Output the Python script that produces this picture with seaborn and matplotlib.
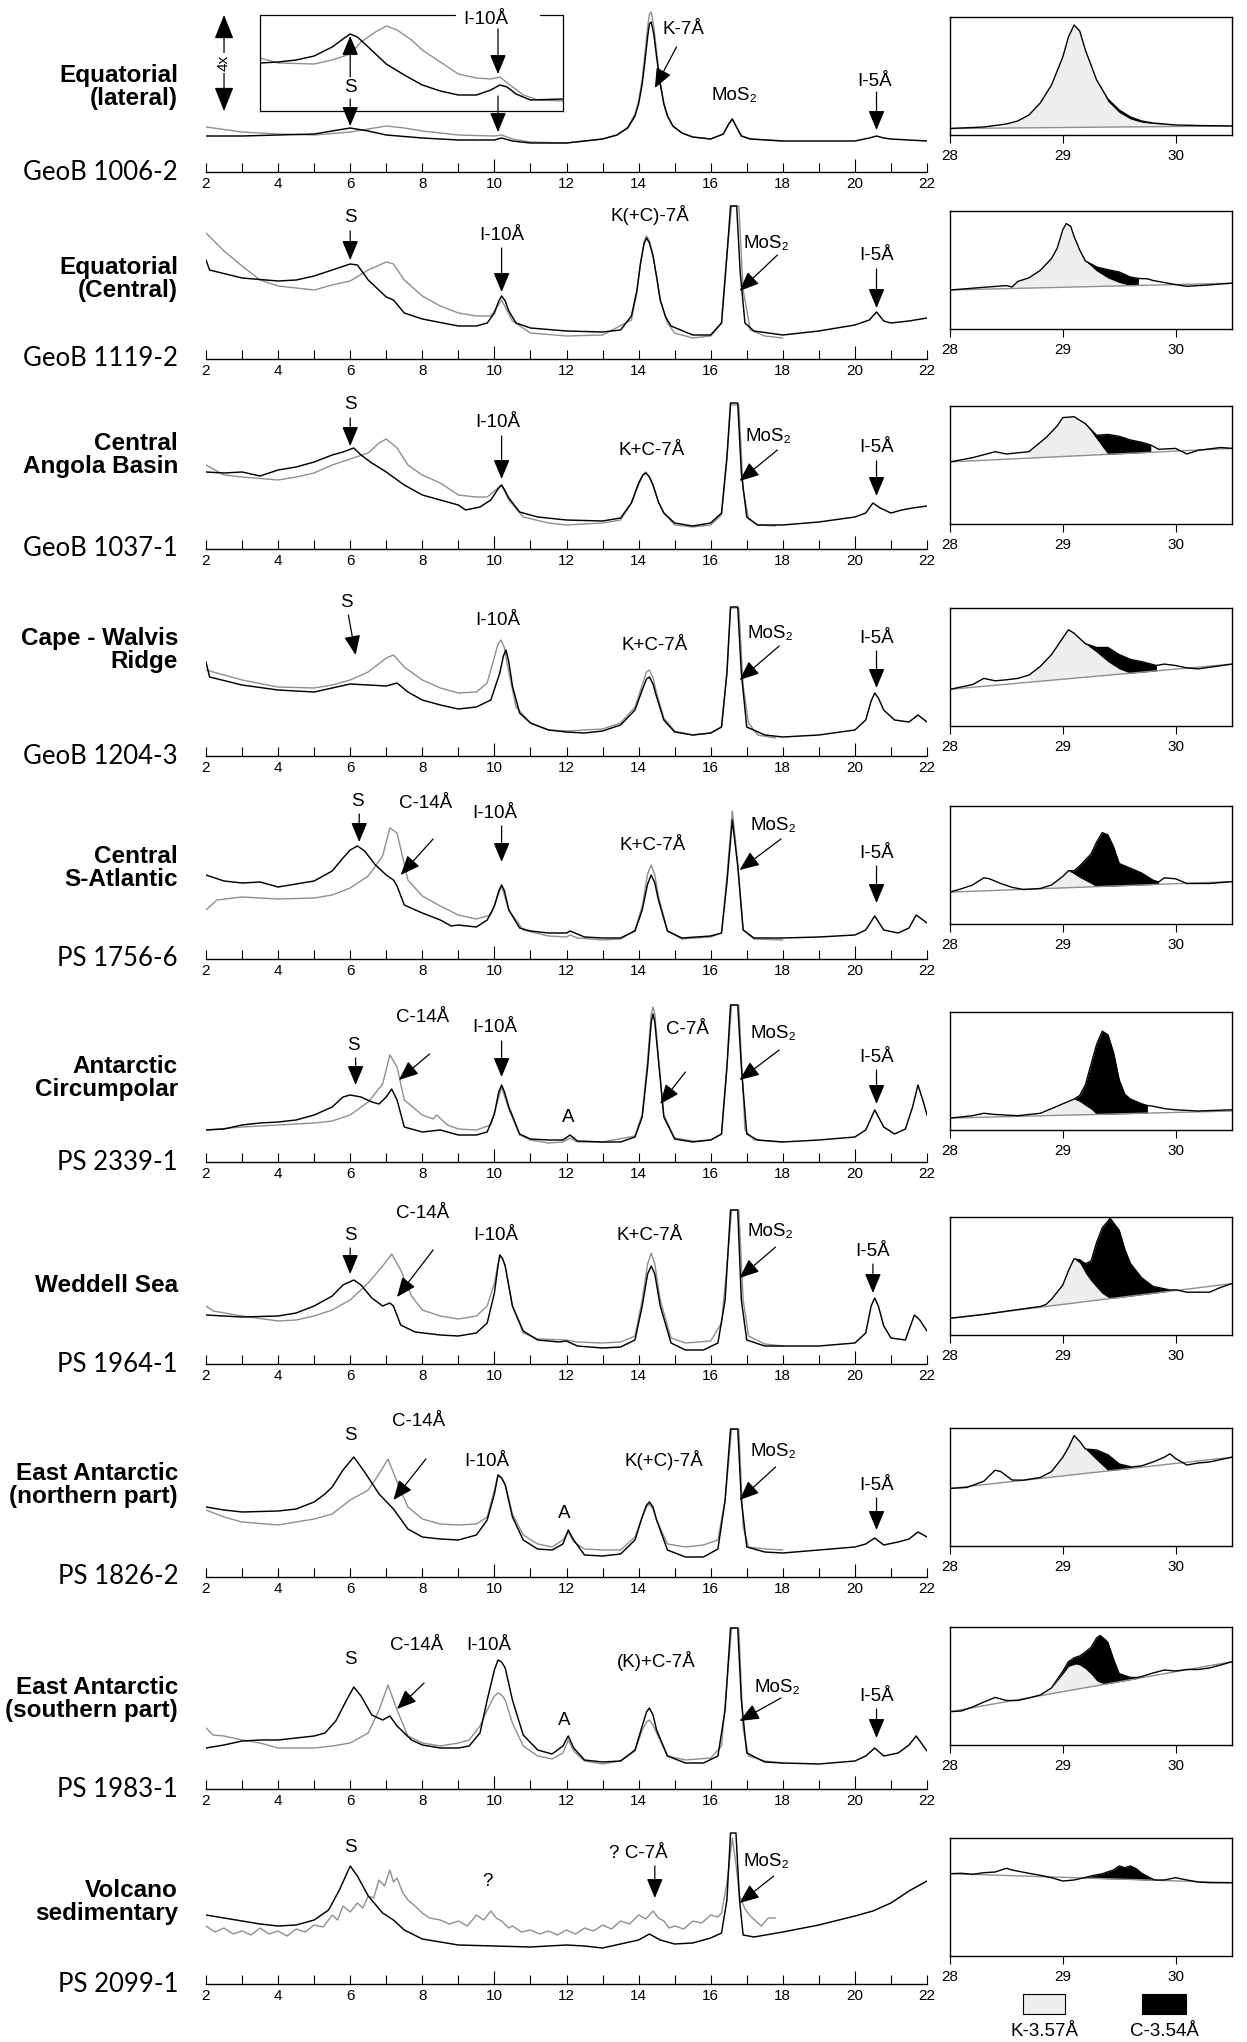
import matplotlib
matplotlib.use("Agg")
import matplotlib.pyplot as plt
from matplotlib.patches import Rectangle
import seaborn as sns
import numpy as np

sns.set_style("white")
plt.rcParams["font.family"] = ["Liberation Sans", "DejaVu Sans"]
plt.rcParams["text.color"] = "black"
plt.rcParams["axes.edgecolor"] = "black"
plt.rcParams["xtick.color"] = "black"

# ---------------- text ----------------
ROW_TITLES = ["Equatorial\n(lateral)", "Equatorial\n(Central)", "Central\nAngola Basin",
              "Cape - Walvis\nRidge", "Central\nS-Atlantic", "Antarctic\nCircumpolar",
              "Weddell Sea", "East Antarctic\n(northern part)", "East Antarctic\n(southern part)",
              "Volcano\nsedimentary"]
SAMPLE_IDS = ["GeoB 1006-2", "GeoB 1119-2", "GeoB 1037-1", "GeoB 1204-3", "PS 1756-6",
              "PS 2339-1", "PS 1964-1", "PS 1826-2", "PS 1983-1", "PS 2099-1"]
LEGEND_LABELS = ["K-3.57Å", "C-3.54Å"]
RIGHT_TICKS = [28, 29, 30]

# ---------------- left traces (2-theta, intensity) ----------------
BLK_1 = [(2,36),(3,36),(4,37),(5,38),(5.5,41),(6,44),(6.5,41),(7,37),(8,34),(9,32),(10,32),(10.2,34),(10.5,31),(11,29),(12,29),(13,33),(13.4,37),(13.7,44),(13.9,56),(14.0,68),(14.1,88),(14.18,112),(14.25,135),(14.3,148),(14.35,150),(14.42,138),(14.5,115),(14.6,88),(14.7,68),(14.8,56),(14.95,46),(15.2,39),(15.5,35),(16.0,33),(16.35,38),(16.5,48),(16.6,53),(16.7,46),(16.85,36),(17.1,33),(18,31),(20,31),(20.4,34),(20.6,36),(20.8,34),(21,33),(22,31)]
GRY_1 = [(2,45),(3,40),(4,38),(5,37),(6,40),(6.5,43),(7,46),(7.5,44),(8,41),(9,37),(10,36),(10.2,37),(10.5,33),(11,30),(12,29),(13,33),(13.4,37),(13.7,45),(13.9,58),(14.0,71),(14.1,93),(14.18,120),(14.25,145),(14.3,158),(14.35,160),(14.42,146),(14.5,120),(14.6,90),(14.7,69),(14.8,57),(14.95,46),(15.2,39),(15.5,35),(16.0,33),(16.35,38),(16.5,48),(16.6,53),(16.7,46),(16.85,36),(17.1,33),(18,31)]
INSET_BLK = [(3.5,48),(4,49),(4.5,51),(5,55),(5.5,64),(5.8,72),(6.0,77),(6.2,74),(6.5,64),(7,47),(7.5,36),(8,26),(8.5,20),(9,16),(9.5,16),(9.9,21),(10.15,26),(10.35,24),(10.6,17),(11,11),(11.9,12)]
INSET_GRY = [(3.5,53),(4,48),(5,47),(5.5,51),(6,57),(6.3,69),(6.7,79),(7.0,85),(7.3,81),(7.7,71),(8,61),(8.5,49),(9,37),(9.5,33),(9.9,32),(10.15,34),(10.4,27),(10.8,16),(11.2,11),(11.9,10)]

BLK_2 = [(2,99),(2.1,89),(3,81),(4,78),(4.5,79),(5,83),(5.5,89),(6,95),(6.2,94),(6.5,79),(7,62),(7.2,59),(7.5,46),(8,40),(9,33),(9.5,33),(9.8,36),(10.0,46),(10.12,58),(10.2,63),(10.3,58),(10.4,48),(10.6,36),(11,31),(12,28),(13,27),(13.5,29),(13.8,43),(13.95,68),(14.05,95),(14.15,115),(14.22,121),(14.3,116),(14.4,103),(14.5,82),(14.6,59),(14.75,42),(14.9,33),(15.5,24),(16,24),(16.3,36),(16.45,103),(16.55,153),(16.72,153),(16.82,86),(16.95,36),(17.2,28),(18,24),(19,28),(20,34),(20.4,39),(20.6,47),(20.8,38),(21,36),(21.5,38),(22,41)]
GRY_2 = [(2,126),(2.5,108),(3,93),(3.5,79),(4,73),(5,69),(5.5,74),(6,78),(6.5,89),(7,97),(7.2,95),(7.5,79),(8,63),(8.5,53),(9,46),(9.5,43),(9.9,43),(10.2,59),(10.5,38),(11,26),(12,23),(13,24),(13.8,39),(13.95,66),(14.05,95),(14.15,117),(14.22,123),(14.3,118),(14.4,104),(14.5,82),(14.6,59),(14.8,36),(15,26),(15.5,21),(16,23),(16.3,36),(16.45,106),(16.58,153),(16.78,153),(16.9,69),(17.1,29),(17.5,23),(18,21)]

BLK_3 = [(2,77),(2.5,76),(3,77),(3.5,73),(4,79),(4.5,82),(5,87),(5.5,94),(5.8,97),(6.1,101),(6.3,94),(6.6,86),(7,77),(7.5,64),(8,54),(8.5,49),(9,44),(9.2,39),(9.6,42),(9.9,49),(10.1,60),(10.2,64),(10.3,58),(10.4,51),(10.7,37),(11.2,32),(12,29),(13,28),(13.5,31),(13.8,46),(14.0,66),(14.12,74),(14.2,76),(14.3,72),(14.4,64),(14.55,47),(14.7,36),(15,26),(15.5,23),(16,26),(16.3,36),(16.45,92),(16.55,146),(16.75,146),(16.85,76),(17,32),(17.3,24),(18,24),(19,27),(20,32),(20.3,36),(20.5,46),(20.7,41),(21,36),(21.3,39),(21.6,41),(22,43)]
GRY_3 = [(2,84),(2.5,74),(3,72),(4,69),(4.5,72),(5,76),(5.5,84),(6,90),(6.5,96),(6.8,106),(7,110),(7.3,101),(7.6,84),(8,74),(8.5,66),(9,54),(9.5,52),(9.8,52),(10.2,64),(10.4,49),(10.8,32),(11.5,26),(12,24),(13,26),(13.5,29),(13.8,46),(14.0,64),(14.12,74),(14.2,77),(14.3,72),(14.4,64),(14.55,47),(14.7,36),(15,24),(15.5,22),(16,24),(16.3,34),(16.45,89),(16.55,144),(16.78,144),(16.9,60),(17.05,30),(17.3,24),(17.8,23)]

BLK_4 = [(2,94),(2.1,79),(3,71),(4,66),(5,64),(5.5,68),(6,72),(6.5,71),(7,70),(7.3,73),(7.6,64),(8,56),(8.5,51),(9,47),(9.5,49),(9.9,56),(10.15,83),(10.25,100),(10.32,106),(10.4,94),(10.5,70),(10.7,43),(11,33),(11.5,26),(12,24),(12.5,23),(13,25),(13.5,31),(13.9,46),(14.1,66),(14.22,77),(14.3,79),(14.4,72),(14.5,59),(14.7,36),(15,24),(15.5,21),(16,23),(16.3,29),(16.45,83),(16.55,149),(16.75,149),(16.85,83),(17,29),(17.5,21),(18,19),(19,21),(20,26),(20.3,36),(20.45,55),(20.55,63),(20.65,58),(20.8,46),(21.1,36),(21.5,34),(21.75,41),(22,34)]
GRY_4 = [(2,86),(2.5,81),(3,76),(4,69),(5,68),(5.5,71),(6,76),(6.5,84),(7,98),(7.2,101),(7.5,89),(8,76),(8.5,68),(9,63),(9.5,64),(9.8,73),(10.0,99),(10.1,112),(10.18,116),(10.28,108),(10.35,93),(10.6,49),(11,33),(11.5,26),(12,25),(13,27),(13.5,33),(13.9,49),(14.1,71),(14.22,84),(14.3,86),(14.4,78),(14.5,63),(14.7,38),(15,25),(15.5,21),(16,23),(16.3,29),(16.45,83),(16.55,148),(16.78,148),(16.9,70),(17.05,33),(17.3,21),(17.8,18)]

BLK_5 = [(2,84),(2.5,78),(3,76),(3.5,77),(4,72),(4.5,75),(5,78),(5.5,88),(5.8,101),(6.0,109),(6.2,113),(6.4,108),(6.7,94),(7,84),(7.2,79),(7.3,73),(7.5,54),(8,46),(8.5,39),(8.8,33),(9,34),(9.5,32),(9.8,39),(10.0,53),(10.12,68),(10.2,74),(10.28,68),(10.4,49),(10.7,31),(11,28),(11.5,26),(12,26),(12.1,28),(12.5,22),(13,21),(13.5,21),(13.9,28),(14.1,49),(14.25,75),(14.35,84),(14.45,76),(14.55,59),(14.8,28),(15.2,21),(16,23),(16.3,26),(16.45,76),(16.6,139),(16.75,93),(16.9,29),(17.2,21),(18,21),(19,22),(20,24),(20.3,29),(20.55,43),(20.8,29),(21.2,26),(21.5,31),(21.7,44),(22,36)]
GRY_5 = [(2,49),(2.3,59),(3,62),(3.5,61),(4,60),(5,61),(5.5,64),(6,71),(6.5,83),(6.9,103),(7.1,131),(7.3,126),(7.6,79),(8,63),(8.5,53),(9,44),(9.5,40),(9.9,44),(10.2,73),(10.4,49),(10.8,29),(11.5,23),(12,22),(12.1,24),(12.3,21),(13,19),(13.5,20),(13.9,29),(14.1,53),(14.25,85),(14.35,94),(14.45,84),(14.55,63),(14.8,28),(15.2,20),(16,22),(16.3,26),(16.45,83),(16.6,148),(16.75,96),(16.9,29),(17.2,20),(18,19)]

BLK_6 = [(2,32),(2.5,33),(3,37),(3.5,39),(4,40),(4.5,42),(5,47),(5.5,55),(5.8,65),(6.0,67),(6.3,65),(6.6,60),(6.8,58),(7.0,65),(7.15,73),(7.3,62),(7.5,35),(8,30),(8.5,32),(9,27),(9.5,27),(9.8,30),(10.0,48),(10.12,70),(10.2,77),(10.28,70),(10.4,55),(10.7,28),(11,23),(11.5,22),(11.9,22),(12.1,27),(12.3,21),(13,20),(13.5,20),(13.9,25),(14.1,45),(14.25,95),(14.35,140),(14.4,148),(14.45,140),(14.55,102),(14.7,45),(15,23),(15.5,20),(16,22),(16.3,28),(16.45,95),(16.55,157),(16.75,157),(16.85,95),(17,28),(17.3,22),(18,20),(19,22),(20,25),(20.3,32),(20.55,52),(20.8,35),(21.1,28),(21.4,33),(21.6,55),(21.75,77),(21.9,60),(22,47)]
GRY_6 = [(2,32),(3,35),(4,37),(5,39),(5.5,41),(6,47),(6.5,60),(6.9,78),(7.1,107),(7.3,95),(7.5,62),(8,47),(8.3,43),(8.4,47),(8.7,37),(9,33),(9.5,32),(9.9,37),(10.2,75),(10.4,53),(10.7,27),(11,22),(11.5,19),(11.9,20),(12.1,24),(12.3,20),(13,20),(13.9,26),(14.1,48),(14.25,102),(14.35,148),(14.4,155),(14.45,148),(14.55,105),(14.7,47),(15,24),(15.5,21),(16,22),(16.3,28),(16.45,95),(16.58,157),(16.78,157),(16.95,32),(17.2,22),(18,20)]

BLK_7 = [(2,49),(3,47),(4,48),(4.5,51),(5,58),(5.5,68),(5.8,79),(6.1,84),(6.3,79),(6.6,66),(6.9,58),(7.1,61),(7.2,58),(7.4,39),(7.8,32),(8.5,29),(9,28),(9.5,31),(9.8,41),(10.0,71),(10.1,98),(10.15,109),(10.22,106),(10.3,98),(10.5,58),(10.8,33),(11.2,24),(11.8,22),(12.0,23),(12.3,18),(13,16),(13.5,17),(13.9,24),(14.1,58),(14.25,90),(14.35,98),(14.45,90),(14.6,58),(14.9,21),(15.3,14),(15.8,14),(16.2,21),(16.4,64),(16.55,154),(16.75,154),(16.85,64),(17,24),(17.5,18),(18,18),(19,18),(20,21),(20.3,31),(20.45,58),(20.55,66),(20.65,58),(20.8,38),(21,26),(21.4,24),(21.65,49),(21.8,44),(22,33)]
GRY_7 = [(2,58),(2.2,53),(3,48),(4,43),(4.5,44),(5,48),(5.5,54),(6,64),(6.5,81),(6.9,98),(7.15,110),(7.4,94),(7.7,68),(8,54),(8.5,48),(9,45),(9.5,48),(9.8,58),(10.0,81),(10.1,100),(10.15,108),(10.22,105),(10.3,98),(10.5,58),(10.8,31),(11.2,25),(12,24),(12.3,22),(13,21),(13.5,22),(13.9,28),(14.1,64),(14.25,100),(14.35,111),(14.45,100),(14.6,64),(14.9,26),(15.3,21),(16,23),(16.3,41),(16.45,98),(16.58,154),(16.78,154),(16.9,64),(17.05,28),(17.5,20),(18,18)]

BLK_8 = [(2,70),(2.5,67),(3,65),(4,66),(4.5,68),(5,75),(5.3,83),(5.5,90),(5.8,107),(6.1,120),(6.4,105),(6.8,83),(7.2,68),(7.6,48),(8,40),(8.5,38),(9,37),(9.5,42),(9.8,57),(10.0,83),(10.1,102),(10.2,99),(10.3,92),(10.5,60),(10.8,37),(11.2,28),(11.6,27),(11.9,33),(12.05,47),(12.2,37),(12.5,22),(13,21),(13.5,23),(13.9,37),(14.1,60),(14.22,72),(14.3,75),(14.4,70),(14.5,57),(14.8,27),(15.3,20),(15.8,20),(16.2,28),(16.4,77),(16.55,148),(16.75,148),(16.85,77),(17,30),(17.5,25),(18,24),(19,27),(20,30),(20.3,33),(20.55,39),(20.8,32),(21.2,35),(21.5,38),(21.75,45),(22,40)]
GRY_8 = [(2,67),(2.5,60),(3,55),(4,52),(4.5,55),(5,58),(5.5,63),(6,77),(6.5,87),(6.8,103),(7.05,118),(7.3,95),(7.6,70),(8,58),(8.5,53),(9,52),(9.5,53),(9.8,60),(10.0,87),(10.1,102),(10.2,99),(10.3,93),(10.5,63),(10.8,42),(11.2,33),(11.6,30),(11.9,37),(12.05,45),(12.2,35),(12.5,28),(13,27),(13.5,27),(13.9,40),(14.1,60),(14.22,70),(14.3,73),(14.4,68),(14.5,57),(14.8,33),(15.3,30),(15.8,32),(16.2,37),(16.4,77),(16.58,148),(16.78,148),(16.9,50),(17.05,30),(17.5,28),(18,27)]

BLK_9 = [(2,41),(2.5,44),(3,48),(3.5,49),(4,49),(4.5,51),(5,53),(5.3,56),(5.6,68),(5.9,89),(6.1,102),(6.3,93),(6.6,74),(6.9,69),(7.1,73),(7.3,63),(7.7,49),(8,44),(8.5,41),(9,41),(9.3,43),(9.6,56),(9.8,89),(10.0,119),(10.1,129),(10.2,127),(10.3,121),(10.5,89),(10.8,54),(11.2,39),(11.6,35),(11.9,43),(12.05,53),(12.2,41),(12.5,29),(13,27),(13.5,28),(13.9,39),(14.1,63),(14.22,77),(14.3,81),(14.4,74),(14.5,59),(14.8,33),(15.3,26),(15.8,26),(16.2,33),(16.4,79),(16.55,161),(16.75,161),(16.85,89),(17,36),(17.5,27),(18,26),(19,25),(20,28),(20.3,33),(20.55,41),(20.8,33),(21.2,36),(21.5,44),(21.7,53),(22,38)]
GRY_9 = [(2,61),(2.2,54),(2.5,53),(3,49),(3.5,46),(4,41),(5,41),(5.5,43),(6,46),(6.5,56),(6.8,79),(7.05,104),(7.3,79),(7.6,53),(8,46),(8.5,43),(9,46),(9.3,49),(9.6,63),(9.8,79),(10.0,93),(10.1,96),(10.2,94),(10.3,89),(10.5,66),(10.8,43),(11.2,33),(11.6,30),(11.9,36),(12.05,49),(12.2,38),(12.5,28),(13,25),(13.5,28),(13.9,38),(14.1,59),(14.22,67),(14.3,69),(14.4,64),(14.5,56),(14.8,33),(15.3,29),(16,31),(16.3,43),(16.45,106),(16.58,161),(16.78,161),(16.9,60),(17.05,33),(17.5,28),(18,26)]

BLK_10 = [(2,69),(2.5,66),(3,63),(3.5,60),(4,58),(4.5,59),(5,64),(5.4,74),(5.7,94),(6.0,118),(6.2,108),(6.5,88),(6.9,71),(7.2,64),(7.5,54),(8,45),(8.5,42),(9,39),(10,38),(11,37),(12,39),(12.5,38),(13,36),(13.5,40),(14,44),(14.3,50),(14.6,44),(15,40),(15.5,41),(16,46),(16.3,51),(16.45,84),(16.55,151),(16.7,151),(16.8,84),(16.9,49),(17.2,47),(18,52),(19,59),(20,68),(20.5,73),(21,81),(21.5,93),(22,103)]
GRY_10 = [(2,58),(2.25,52),(2.5,56),(2.75,50),(3,53),(3.25,49),(3.5,56),(3.75,50),(4,53),(4.25,48),(4.5,55),(4.75,52),(5,59),(5.25,57),(5.5,69),(5.65,64),(5.8,78),(6.0,72),(6.2,81),(6.35,76),(6.5,88),(6.65,86),(6.8,104),(6.95,98),(7.1,114),(7.2,102),(7.3,106),(7.45,92),(7.6,84),(7.8,78),(8,71),(8.2,66),(8.5,64),(8.75,60),(9,63),(9.25,58),(9.5,69),(9.7,64),(9.9,73),(10.05,66),(10.2,63),(10.4,56),(10.5,58),(10.75,52),(11,54),(11.25,50),(11.5,53),(11.75,49),(12,54),(12.25,50),(12.5,56),(12.75,53),(13,59),(13.25,55),(13.5,63),(13.75,60),(14,69),(14.2,65),(14.4,73),(14.55,66),(14.7,63),(14.85,56),(15,58),(15.25,55),(15.5,63),(15.75,61),(16,69),(16.2,67),(16.3,71),(16.45,101),(16.6,146),(16.7,120),(16.8,88),(16.95,75),(17.1,68),(17.25,63),(17.4,58),(17.6,66),(17.8,66)]

BLACK_TRACES = [BLK_1, BLK_2, BLK_3, BLK_4, BLK_5, BLK_6, BLK_7, BLK_8, BLK_9, BLK_10]
GRAY_TRACES = [GRY_1, GRY_2, GRY_3, GRY_4, GRY_5, GRY_6, GRY_7, GRY_8, GRY_9, GRY_10]

# ---------------- right panels (28-30.5) ----------------
RT_1 = [(28,6.5),(28.3,8),(28.5,11),(28.6,14),(28.7,20),(28.8,32),(28.9,50),(29.0,78),(29.05,98),(29.1,110),(29.15,104),(29.2,85),(29.3,55),(29.4,36),(29.5,25),(29.6,18),(29.7,14),(29.8,12),(30.0,10),(30.2,9.5),(30.5,9)]
RK_1 = [(28.5,11),(28.6,14),(28.7,20),(28.8,32),(28.9,50),(29.0,78),(29.05,98),(29.1,110),(29.15,104),(29.2,85),(29.3,55),(29.4,33.5),(29.5,22.5),(29.6,16),(29.7,12.7),(29.8,11.5),(30.0,10)]
RB_1 = (6.5, 9.0)
RT_2 = [(28,39.0),(28.3,41.7),(28.5,43.4),(28.55,42.0),(28.6,47.5),(28.7,51.2),(28.8,58.6),(28.9,70.5),(28.95,80.7),(29.0,99.3),(29.03,105.4),(29.07,102.7),(29.1,92.5),(29.15,79.0),(29.2,68.1),(29.3,62.0),(29.4,59.3),(29.5,57.0),(29.6,51.9),(29.67,50.5),(29.75,50.2),(29.8,48.5),(30.0,44.4),(30.1,42.7),(30.2,43.4),(30.3,44.1),(30.5,45.8)]
RK_2 = [(28.55,42.0),(28.6,47.5),(28.7,51.2),(28.8,58.6),(28.9,70.5),(28.95,80.7),(29.0,99.3),(29.03,105.4),(29.07,102.7),(29.1,92.5),(29.15,79.0),(29.2,68.1),(29.3,58.0),(29.4,51.0),(29.5,46.5),(29.6,43.4),(29.67,43.5)]
RB_2 = (39.0, 45.8)
RT_3 = [(28,62.1),(28.2,66.3),(28.4,72.3),(28.5,70.0),(28.7,72.3),(28.75,77.0),(28.85,86.3),(28.95,98.0),(29.0,106.4),(29.1,107.3),(29.2,100.3),(29.3,88.7),(29.4,89.6),(29.5,87.7),(29.6,84.0),(29.7,81.7),(29.78,79.0),(29.85,74.7),(30.0,75.6),(30.1,70.0),(30.2,73.7),(30.4,76.5),(30.5,75.6)]
RK_3 = [(28.7,72.3),(28.75,77.0),(28.85,86.3),(28.95,98.0),(29.0,106.4),(29.1,107.3),(29.2,100.3),(29.3,85.0),(29.4,69.7),(29.5,70.2),(29.6,70.7),(29.7,71.3),(29.78,71.7)]
RB_3 = (62.1, 75.6)
RT_4 = [(28,36.7),(28.2,41.4),(28.3,47.6),(28.4,45.2),(28.5,46.2),(28.6,47.6),(28.7,50.9),(28.8,59.5),(28.9,71.4),(29.0,88.1),(29.05,96.2),(29.1,92.8),(29.2,82.3),(29.3,78.5),(29.4,78.5),(29.5,71.4),(29.6,66.6),(29.7,64.3),(29.83,60.5),(29.9,61.9),(30.0,60.5),(30.1,58.1),(30.2,57.1),(30.5,61.9)]
RK_4 = [(28.7,50.9),(28.8,59.5),(28.9,71.4),(29.0,88.1),(29.05,96.2),(29.1,92.8),(29.2,82.3),(29.3,73.8),(29.4,64.3),(29.5,57.1),(29.6,52.8),(29.7,53.8),(29.83,55.1)]
RB_4 = (36.7, 61.9)
RT_5 = [(28,31.9),(28.1,35.2),(28.2,39.0),(28.3,46.2),(28.35,45.2),(28.45,40.5),(28.55,36.7),(28.65,34.5),(28.8,35.5),(28.9,39.0),(29.0,47.6),(29.05,53.3),(29.1,53.3),(29.15,58.1),(29.25,70.0),(29.3,81.9),(29.35,91.4),(29.4,89.0),(29.45,77.1),(29.5,60.5),(29.6,55.7),(29.7,50.9),(29.8,43.8),(29.85,42.0),(29.9,46.2),(30.0,45.2),(30.1,40.5),(30.3,40.5),(30.5,42.4)]
RK_5 = [(28.8,35.5),(28.9,39.0),(29.0,47.6),(29.05,53.3),(29.1,50.0),(29.15,46.5),(29.25,40.5),(29.3,37.4),(29.35,37.6),(29.4,37.8),(29.45,38.0),(29.5,38.2),(29.6,38.6),(29.7,39.0),(29.8,39.5),(29.85,39.7)]
RB_5 = (31.9, 42.4)
RT_6 = [(28,11.9),(28.2,14.3),(28.3,16.7),(28.4,15.5),(28.6,14.3),(28.8,16.7),(28.9,21.4),(29.0,26.2),(29.1,30.9),(29.15,34.5),(29.2,45.2),(29.25,65.5),(29.3,85.7),(29.35,98.8),(29.4,95.2),(29.45,77.4),(29.5,50.0),(29.55,35.7),(29.6,30.9),(29.7,26.2),(29.75,24.5),(29.8,23.8),(29.9,21.4),(30.0,20.2),(30.2,19.0),(30.5,20.2)]
RK_6 = [(28.8,16.7),(28.9,21.4),(29.0,26.2),(29.1,30.9),(29.15,28.5),(29.2,24.5),(29.25,21.0),(29.3,15.6),(29.35,15.7),(29.4,15.9),(29.45,16.0),(29.5,16.2),(29.55,16.3),(29.6,16.4),(29.7,16.7),(29.75,16.9)]
RB_6 = (11.9, 19.0)
RT_7 = [(28,16.7),(28.3,20.5),(28.5,23.8),(28.7,27.0),(28.8,28.5),(28.85,30.5),(28.9,35.7),(29.0,50.0),(29.05,64.3),(29.1,76.2),(29.15,75.2),(29.2,71.4),(29.25,73.8),(29.3,92.8),(29.35,107.1),(29.42,116.6),(29.5,104.7),(29.55,85.7),(29.6,71.4),(29.7,57.1),(29.8,48.6),(29.9,46.2),(29.95,45.0),(30.0,45.2),(30.1,42.8),(30.3,42.8),(30.4,47.6),(30.5,51.4)]
RK_7 = [(28.85,30.5),(28.9,35.7),(29.0,50.0),(29.05,64.3),(29.1,76.2),(29.15,72.0),(29.2,61.9),(29.25,54.0),(29.3,47.6),(29.35,41.5),(29.42,36.4),(29.5,37.5),(29.55,38.2),(29.6,38.9),(29.7,40.3),(29.8,41.7),(29.9,43.1),(29.95,43.8)]
RB_7 = (16.7, 51.4)
RT_8 = [(28,57.6),(28.15,58.5),(28.3,64.8),(28.4,75.8),(28.45,74.4),(28.55,66.0),(28.65,65.8),(28.8,68.5),(28.9,74.4),(29.0,88.8),(29.05,98.4),(29.1,110.4),(29.15,104.6),(29.2,97.0),(29.3,96.0),(29.4,91.2),(29.5,82.0),(29.61,79.0),(29.7,80.2),(29.8,84.0),(29.9,88.8),(29.95,92.2),(30.0,87.4),(30.1,81.0),(30.2,83.0),(30.3,84.0),(30.4,86.4),(30.5,88.8)]
RK_8 = [(28.8,68.5),(28.9,74.4),(29.0,88.8),(29.05,98.4),(29.1,110.4),(29.15,104.6),(29.2,97.0),(29.3,86.0),(29.4,75.5),(29.5,76.3),(29.61,77.7)]
RB_8 = (57.6, 88.8)
RT_9 = [(28,33.3),(28.1,34.0),(28.2,38.0),(28.3,43.0),(28.4,47.6),(28.5,44.5),(28.6,44.5),(28.7,47.0),(28.8,50.0),(28.9,57.1),(29.0,73.8),(29.05,83.3),(29.1,87.1),(29.12,88.0),(29.15,89.0),(29.2,93.0),(29.25,97.6),(29.3,107.1),(29.33,109.5),(29.38,105.0),(29.4,102.3),(29.45,85.7),(29.5,71.4),(29.6,67.5),(29.66,67.5),(29.7,68.5),(29.8,72.0),(29.9,75.0),(30.0,74.0),(30.1,75.5),(30.2,75.5),(30.3,77.0),(30.4,80.0),(30.5,83.3)]
RK_9 = [(28.8,50.0),(28.9,57.1),(29.0,71.0),(29.05,78.5),(29.1,80.5),(29.12,80.9),(29.15,80.0),(29.2,76.2),(29.25,71.0),(29.3,64.3),(29.33,62.5),(29.38,60.9),(29.4,61.3),(29.45,62.3),(29.5,63.3),(29.6,65.3),(29.66,66.5)]
RB_9 = (33.3, 83.3)
RT_10 = [(28,82.3),(28.1,82.7),(28.2,81.7),(28.3,83.3),(28.4,84.0),(28.5,87.7),(28.55,86.0),(28.7,82.7),(28.8,80.7),(28.9,78.3),(29.0,75.0),(29.1,76.0),(29.18,78.0),(29.25,80.0),(29.35,82.3),(29.45,86.0),(29.5,90.0),(29.55,88.3),(29.6,90.0),(29.65,87.3),(29.7,82.7),(29.8,76.7),(29.82,76.0),(29.9,76.0),(30.0,78.3),(30.1,76.0),(30.2,74.0),(30.3,73.3),(30.5,73.3)]
RK_10 = [(29.18,78.0),(29.25,77.8),(29.35,77.4),(29.45,77.1),(29.5,76.9),(29.55,76.7),(29.6,76.5),(29.65,76.4),(29.7,76.2),(29.8,75.8),(29.82,75.7)]
RB_10 = (82.3, 73.3)

RIGHT_TOTAL = [RT_1, RT_2, RT_3, RT_4, RT_5, RT_6, RT_7, RT_8, RT_9, RT_10]
RIGHT_K = [RK_1, RK_2, RK_3, RK_4, RK_5, RK_6, RK_7, RK_8, RK_9, RK_10]
RIGHT_BASE = [RB_1, RB_2, RB_3, RB_4, RB_5, RB_6, RB_7, RB_8, RB_9, RB_10]

# ---------------- annotations (label, x, y) and arrows (tail -> tip) ----------------
LABELS = [
    [('S',6.0,84),('I-10Å',9.75,152),('K-7Å',15.25,143),('MoS₂',16.65,77),('I-5Å',20.55,91)],
    [('S',6.0,141),('I-10Å',10.2,124),('K(+C)-7Å',14.3,144),('MoS₂',17.55,116),('I-5Å',20.6,103)],
    [('S',6.0,144),('I-10Å',10.1,126),('K+C-7Å',14.35,98),('MoS₂',17.6,112),('I-5Å',20.6,101)],
    [('S',5.9,154),('I-10Å',10.1,136),('K+C-7Å',14.45,111),('MoS₂',17.65,123),('I-5Å',20.6,118)],
    [('S',6.2,158),('C-14Å',8.1,156),('I-10Å',10.0,146),('K+C-7Å',14.4,113),('MoS₂',17.75,134),('I-5Å',20.6,106)],
    [('S',6.1,117),('C-14Å',8.0,145),('I-10Å',10.0,135),('A',12.05,45),('C-7Å',15.35,133),('MoS₂',17.75,128),('I-5Å',20.6,105)],
    [('S',6.0,129),('C-14Å',8.0,151),('I-10Å',10.05,129),('K+C-7Å',14.3,129),('MoS₂',17.65,133),('I-5Å',20.5,113)],
    [('S',6.0,142),('C-14Å',7.9,155),('I-10Å',9.8,115),('A',11.95,63),('K(+C)-7Å',14.7,117),('MoS₂',17.75,125),('I-5Å',20.6,92)],
    [('S',6.0,129),('C-14Å',7.85,143),('I-10Å',9.85,143),('A',11.95,69),('(K)+C-7Å',14.5,128),('MoS₂',17.85,101),('I-5Å',20.6,93)],
    [('S',6.0,137),('?',9.8,103),('? C-7Å',14.0,131),('MoS₂',17.55,123)],
]
ARROWS = [
    [(6.0,95,6.0,136),(6.0,73,6.0,46),(10.1,143,10.1,98),(10.1,76,10.1,40),(15.05,125,14.45,84),(20.6,80,20.6,42)],
    [(6.0,128,6.0,99),(10.2,111,10.2,67),(17.85,104,16.8,68),(20.6,90,20.6,51)],
    [(6.0,131,6.0,103),(10.2,113,10.2,70),(17.85,99,16.8,68),(20.6,88,20.6,53)],
    [(5.95,141,6.15,101),(17.9,110,16.8,76),(20.6,105,20.6,68)],
    [(6.25,145,6.25,117),(8.3,120,7.4,84),(10.2,133,10.2,97),(17.95,120,16.8,89),(20.6,93,20.6,56)],
    [(6.15,104,6.15,77),(8.2,108,7.35,82),(10.2,121,10.2,85),(15.3,90,14.6,58),(17.9,112,16.8,82),(20.6,92,20.6,58)],
    [(6.0,116,6.0,90),(8.3,114,7.3,67),(17.8,117,16.8,86),(20.5,100,20.5,71)],
    [(8.1,118,7.2,77),(17.8,110,16.8,77),(20.6,79,20.6,47)],
    [(8.05,106,7.3,80),(17.95,91,16.8,68),(20.6,80,20.6,51)],
    [(14.45,118,14.45,86),(17.75,108,16.8,81)],
]

# ---------------- layout (pixels) ----------------
W, H = 1247, 2042
AXIS_Y = [172, 359, 549, 756, 959, 1162, 1364, 1577, 1789, 1984]
TITLE_Y = [87, 279, 455, 650, 868, 1078, 1286, 1485, 1699, 1902]
RBOX_TOP = [17, 211, 406, 608, 806, 1012, 1217, 1428, 1627, 1838]
LEFT_H = 168
RBOX_H = 118
LX0, LX1 = 206, 927
RX0, RX1 = 950, 1232
GRAY = '#8f8f8f'
LIGHT = '#eeeeee'

fig = plt.figure(figsize=(W / 100, H / 100), dpi=100)


def split(pairs):
    return [p[0] for p in pairs], [p[1] for p in pairs]


def draw_line(ax, pairs, color, lw):
    xs, ys = split(pairs)
    sns.lineplot(x=xs, y=ys, ax=ax, color=color, linewidth=lw, sort=False,
                 estimator=None, legend=False)


ARROW_STYLE = '-|>,head_length=1.2,head_width=0.5'

for i in range(10):
    ybot = AXIS_Y[i]
    ax = fig.add_axes([LX0 / W, 1 - ybot / H, (LX1 - LX0) / W, LEFT_H / H])
    ax.patch.set_alpha(0)
    draw_line(ax, GRAY_TRACES[i], GRAY, 1.0)
    draw_line(ax, BLACK_TRACES[i], 'black', 1.05)
    ax.set_xlim(2, 22)
    ax.set_ylim(0, LEFT_H)
    for s in ['top', 'right', 'left']:
        ax.spines[s].set_visible(False)
    ax.spines['bottom'].set_linewidth(1.0)
    ax.set_yticks([])
    ax.set_xticks([10, 20], labels=['10', '20'])
    minor = [v for v in range(2, 23) if v not in (10, 20)]
    ax.set_xticks(minor, labels=[str(v) if v % 2 == 0 else '' for v in minor], minor=True)
    for lab in ax.get_xticklabels(which='both'):
        lab.set_fontsize(11)
    ax.tick_params(axis='x', which='major', direction='in', length=9.5, width=0.8,
                   labelsize=11, pad=3.5, bottom=True)
    ax.tick_params(axis='x', which='minor', direction='in', length=6.5, width=0.8,
                   labelsize=11, pad=3.5, bottom=True)
    ax.set_xlabel('')
    ax.set_ylabel('')

    if i == 0:
        ins = ax.inset_axes([3.5, 61, 8.4, 96], transform=ax.transData)
        ins.set_facecolor('none')
        draw_line(ins, INSET_GRY, GRAY, 1.0)
        draw_line(ins, INSET_BLK, 'black', 1.05)
        ins.set_xlim(3.5, 11.9)
        ins.set_ylim(0, 96)
        ins.set_xticks([])
        ins.set_yticks([])
        ins.set_xlabel('')
        ins.set_ylabel('')
        ins.spines['top'].set_visible(False)
        for s in ['left', 'right', 'bottom']:
            ins.spines[s].set_linewidth(0.9)
        ins.axhline(96, 0, 0.643, color='black', lw=0.9, clip_on=False)
        ins.axhline(96, 0.923, 1.0, color='black', lw=0.9, clip_on=False)
        ax.annotate('', xy=(2.5, 157), xytext=(2.5, 61),
                    arrowprops=dict(arrowstyle='<|-|>,head_length=1.5,head_width=0.6',
                                    color='black', lw=0.9, mutation_scale=10,
                                    shrinkA=0, shrinkB=0), annotation_clip=False, zorder=6)
        ax.text(2.5, 109, '4x', rotation=90, ha='center', va='center', fontsize=11,
                bbox=dict(facecolor='white', edgecolor='none', pad=1.5), zorder=7)

    for (t, x, y) in LABELS[i]:
        ax.text(x, y, t, ha='center', va='center', fontsize=13.5, zorder=8, clip_on=False)
    for (x0, y0, x1, y1) in ARROWS[i]:
        ax.annotate('', xy=(x1, y1), xytext=(x0, y0),
                    arrowprops=dict(arrowstyle=ARROW_STYLE, color='black', lw=0.9,
                                    mutation_scale=10, shrinkA=0, shrinkB=0),
                    annotation_clip=False, zorder=8)

    # row title and sample id
    fig.text(178 / W, 1 - TITLE_Y[i] / H, ROW_TITLES[i], ha='right', va='center',
             fontsize=17.5, fontweight='bold', linespacing=1.0, multialignment='right')
    fig.text(178 / W, 1 - ybot / H, SAMPLE_IDS[i], ha='right', va='center',
             fontsize=18.5, family=['Lato', 'DejaVu Sans'])

    # right panel
    top = RBOX_TOP[i]
    rax = fig.add_axes([RX0 / W, 1 - (top + RBOX_H) / H, (RX1 - RX0) / W, RBOX_H / H])
    tx, ty = split(RIGHT_TOTAL[i])
    kx, ky = split(RIGHT_K[i])
    b0, b1 = RIGHT_BASE[i]
    kbase = [b0 + (b1 - b0) * (x - 28) / 2.5 for x in kx]
    lookup = dict(RIGHT_TOTAL[i])
    ktot = [lookup[x] for x in kx]
    rax.fill_between(kx, kbase, ky, color=LIGHT, lw=0, zorder=1)
    rax.fill_between(kx, ky, ktot, color='black', lw=0, zorder=1.5)
    sns.lineplot(x=[28, 30.5], y=[b0, b1], ax=rax, color=GRAY, linewidth=1.0, legend=False)
    draw_line(rax, RIGHT_TOTAL[i], 'black', 1.0)
    rax.set_xlim(28, 30.5)
    rax.set_ylim(0, RBOX_H)
    rax.set_yticks([])
    rax.set_xticks(RIGHT_TICKS, labels=[str(v) for v in RIGHT_TICKS])
    rax.tick_params(axis='x', direction='out', length=6, width=0.8, labelsize=11, pad=4,
                    bottom=True)
    for s in rax.spines.values():
        s.set_linewidth(1.0)
        s.set_color('black')
    rax.set_xlabel('')
    rax.set_ylabel('')

# legend
fig.add_artist(Rectangle((1023 / W, 1 - 2014 / H), 42 / W, 20 / H, transform=fig.transFigure,
                         facecolor=LIGHT, edgecolor='black', lw=0.8))
fig.add_artist(Rectangle((1142 / W, 1 - 2014 / H), 44 / W, 20 / H, transform=fig.transFigure,
                         facecolor='black', edgecolor='black', lw=0.8))
fig.text(1044 / W, 1 - 2031 / H, LEGEND_LABELS[0], ha='center', va='center', fontsize=13.5)
fig.text(1164 / W, 1 - 2031 / H, LEGEND_LABELS[1], ha='center', va='center', fontsize=13.5)

fig.savefig('out.png', dpi=100)
